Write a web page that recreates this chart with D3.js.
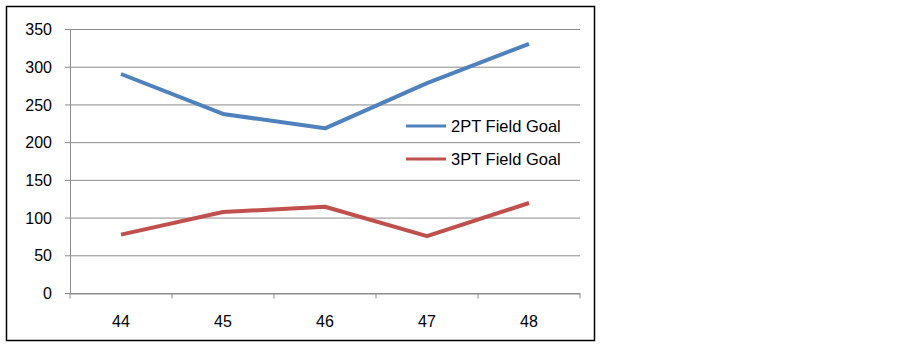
<!DOCTYPE html>
<html>
<head>
<meta charset="utf-8">
<script src="https://cdn.jsdelivr.net/npm/d3@7"></script>
<style>
  body { margin: 0; background: #fff; }
  text { font-family: "Liberation Sans", Arial, sans-serif; }
</style>
</head>
<body>
<svg id="viz"></svg>
<script>
var width = 903;
var height = 346;

// data
var games = ["44", "45", "46", "47", "48"];
var twoPt = [291, 238, 219, 279, 331];
var threePt = [78, 108, 115, 76, 120];
var seriesNames = ["2PT Field Goal", "3PT Field Goal"];
var seriesColors = ["#4F81BD", "#C0504D"];
var yTicks = [0, 50, 100, 150, 200, 250, 300, 350];

var svg = d3.select("#viz")
    .attr("width", width)
    .attr("height", height);

// outer frame
svg.append("rect")
    .attr("x", 6.5).attr("y", 6.5)
    .attr("width", 588).attr("height", 334)
    .attr("fill", "#fff")
    .attr("stroke", "#000")
    .attr("stroke-width", 1.5);

var x = d3.scaleBand()
    .domain(games)
    .range([70, 580]);

var y = d3.scaleLinear()
    .domain([0, 350])
    .range([293.5, 29.5]);

// gridlines
svg.append("g")
    .selectAll("line")
    .data(yTicks)
    .enter().append("line")
    .attr("x1", 65).attr("x2", 580)
    .attr("y1", function (d) { return y(d); })
    .attr("y2", function (d) { return y(d); })
    .attr("stroke", "#8c8c8c")
    .attr("stroke-width", 1);

// y axis
var yAxis = svg.append("g")
    .attr("transform", "translate(70,0)")
    .call(d3.axisLeft(y).tickValues(yTicks).tickSize(0).tickPadding(18));
yAxis.select(".domain").attr("stroke", "#8c8c8c");
yAxis.selectAll("text")
    .style("font-size", "16px")
    .attr("fill", "#000");

// x axis
var xAxis = svg.append("g")
    .attr("transform", "translate(0," + y(0) + ")")
    .call(d3.axisBottom(x).tickSize(0).tickPadding(22));
xAxis.select(".domain").attr("stroke", "#8c8c8c");
xAxis.selectAll("text")
    .style("font-size", "16px")
    .attr("fill", "#000");

// category boundary ticks
var bounds = games.map(function (g) { return x(g); }).concat([x.range()[1]]);
xAxis.selectAll(".bound")
    .data(bounds)
    .enter().append("line")
    .attr("class", "bound")
    .attr("x1", function (d) { return d; })
    .attr("x2", function (d) { return d; })
    .attr("y1", 0).attr("y2", 5)
    .attr("stroke", "#8c8c8c");

// lines
var line = d3.line()
    .x(function (d, i) { return x(games[i]) + x.bandwidth() / 2; })
    .y(function (d) { return y(d); });

[twoPt, threePt].forEach(function (s, i) {
    svg.append("path")
        .datum(s)
        .attr("d", line)
        .attr("fill", "none")
        .attr("stroke", seriesColors[i])
        .attr("stroke-width", 4)
        .attr("stroke-linejoin", "round");
});

// legend
var legend = svg.append("g");
seriesNames.forEach(function (name, i) {
    var ly = 126 + i * 33;
    legend.append("line")
        .attr("x1", 406).attr("x2", 446)
        .attr("y1", ly).attr("y2", ly)
        .attr("stroke", seriesColors[i])
        .attr("stroke-width", 3);
    legend.append("text")
        .attr("x", 451).attr("y", ly)
        .attr("dy", "0.35em")
        .style("font-size", "16.5px")
        .attr("fill", "#000")
        .text(name);
});
</script>
</body>
</html>
